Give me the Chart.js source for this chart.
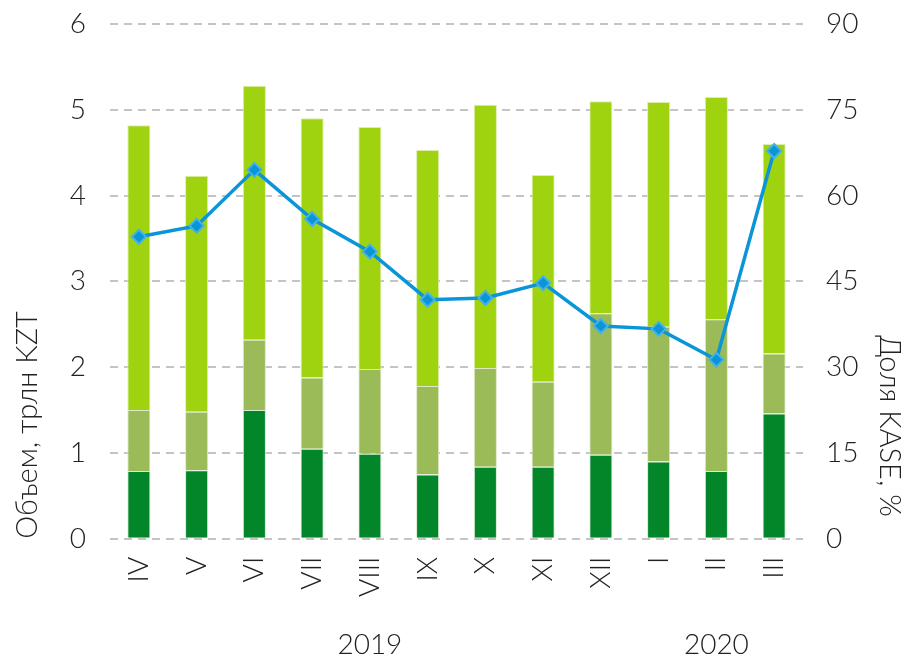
<!DOCTYPE html>
<html>
<head>
<meta charset="utf-8">
<script src="https://cdn.jsdelivr.net/npm/chart.js@4/dist/chart.umd.min.js"></script>
<style>
  html, body { margin: 0; padding: 0; background: #fff; }
  #wrap { width: 910px; height: 660px; }
</style>
</head>
<body>
<div id="wrap"><canvas id="c" width="910" height="660"></canvas></div>
<script>
const categories = ['IV','V','VI','VII','VIII','IX','X','XI','XII','I','II','III'];
const seriesDark  = [0.79, 0.80, 1.50, 1.05, 0.99, 0.75, 0.84, 0.84, 0.98, 0.90, 0.79, 1.46];
const seriesMid   = [0.71, 0.68, 0.82, 0.83, 0.99, 1.03, 1.15, 0.99, 1.65, 1.57, 1.77, 0.70];
const seriesLight = [3.32, 2.75, 2.96, 3.02, 2.82, 2.75, 3.07, 2.41, 2.47, 2.62, 2.59, 2.44];
const kaseShare   = [52.8, 54.7, 64.5, 55.9, 50.2, 41.8, 42.1, 44.7, 37.2, 36.7, 31.3, 67.8];
const leftTicks  = [0, 1, 2, 3, 4, 5, 6];
const rightTicks = [0, 15, 30, 45, 60, 75, 90];
const years      = ['2019', '2020'];
const yearFirst  = ['IV', 'I'];
const yearLast   = ['XII', 'III'];
const rightTitle = 'Доля KASE, %';

const FONT = "Lato, 'Open Sans', sans-serif";

const textPlugin = {
  id: 'extraText',
  afterDraw(chart) {
    const ctx = chart.ctx;
    const x = chart.scales.x;
    const ca = chart.chartArea;
    ctx.save();
    ctx.font = '300 28px ' + FONT;
    ctx.fillStyle = '#222';
    ctx.textAlign = 'center';
    ctx.textBaseline = 'middle';
    years.forEach((y, i) => {
      const a = x.getPixelForValue(categories.indexOf(yearFirst[i]));
      const b = x.getPixelForValue(categories.indexOf(yearLast[i]));
      ctx.fillText(y, (a + b) / 2, ca.bottom + 106);
    });
    // right axis title, rotated clockwise
    const y1 = chart.scales.y1;
    ctx.translate(y1.right - 21, ca.bottom - 22);
    ctx.rotate(Math.PI / 2);
    ctx.font = '300 29px ' + FONT;
    ctx.textAlign = 'right';
    ctx.fillText(rightTitle, 0, 0);
    ctx.restore();
  }
};

new Chart(document.getElementById('c'), {
  type: 'bar',
  data: {
    labels: categories,
    datasets: [
      { type: 'line', label: 'Доля KASE', data: kaseShare, yAxisID: 'y1', order: 0,
        borderColor: '#0a95d9', borderWidth: 3.5, backgroundColor: '#0a95d9',
        pointStyle: 'rectRot', pointRadius: 7, pointHoverRadius: 7,
        pointBackgroundColor: '#0a95d9', pointBorderColor: '#45b1e6', pointBorderWidth: 2,
        tension: 0 },
      { label: 'A', data: seriesDark, backgroundColor: '#03862a', borderColor: '#d8ead0', borderWidth: 1, yAxisID: 'y', order: 1 },
      { label: 'B', data: seriesMid, backgroundColor: '#9bbb59', borderColor: '#dde9c6', borderWidth: 1, yAxisID: 'y', order: 1 },
      { label: 'C', data: seriesLight, backgroundColor: '#9fd20f', borderColor: '#dcefae', borderWidth: 1, yAxisID: 'y', order: 1 }
    ]
  },
  options: {
    responsive: false,
    animation: false,
    layout: { padding: { left: 10, right: 0, top: 0, bottom: 45 } },
    plugins: { legend: { display: false }, tooltip: { enabled: false } },
    datasets: { bar: { categoryPercentage: 1, barPercentage: 0.4 } },
    scales: {
      x: {
        stacked: true,
        grid: { display: false, drawTicks: false },
        border: { display: false },
        ticks: { minRotation: 90, maxRotation: 90, padding: 18, color: '#222',
                 font: { family: FONT, size: 28, weight: '300' } }
      },
      y: {
        stacked: true, position: 'left', min: 0, max: 6,
        afterBuildTicks: s => { s.ticks = leftTicks.map(v => ({ value: v })); },
        afterFit: s => { s.width = 100; s.paddingTop = 24; s.paddingBottom = 0; },
        grid: { color: '#c4c4c4', lineWidth: 2, drawTicks: false },
        border: { display: false, dash: [8, 6] },
        ticks: { padding: 24, color: '#222', font: { family: FONT, size: 28, weight: '300' } },
        title: { display: true, text: 'Объем, трлн KZT', align: 'start', color: '#222',
                 padding: { top: 0, bottom: 0 }, font: { family: FONT, size: 29, weight: '300' } }
      },
      y1: {
        position: 'right', min: 0, max: 90,
        afterBuildTicks: s => { s.ticks = rightTicks.map(v => ({ value: v })); },
        afterFit: s => { s.width = 107; s.paddingTop = 24; s.paddingBottom = 0; },
        grid: { display: false, drawTicks: false },
        border: { display: false },
        ticks: { padding: 23, color: '#222', font: { family: FONT, size: 28, weight: '300' } },
        title: { display: false }
      }
    }
  },
  plugins: [textPlugin]
});
</script>
</body>
</html>
